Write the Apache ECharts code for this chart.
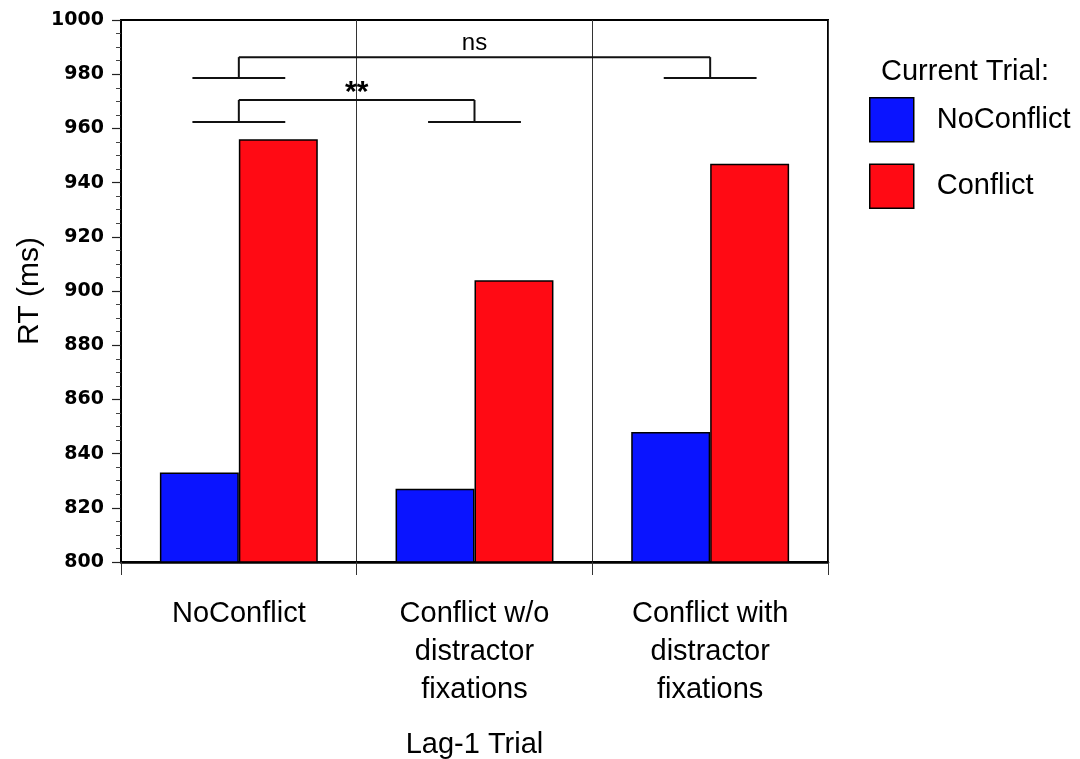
<!DOCTYPE html>
<html>
<head>
<meta charset="utf-8">
<script src="https://cdn.jsdelivr.net/npm/echarts@6/dist/echarts.min.js"></script>
<style>
  html, body { margin: 0; padding: 0; background: #fff; }
  #chart { width: 1080px; height: 759px; }
</style>
</head>
<body>
<div id="chart"></div>
<script>
// ---- data ----
const categories = ['NoConflict', 'Conflict w/o\ndistractor\nfixations', 'Conflict with\ndistractor\nfixations'];
const seriesNames = ['NoConflict', 'Conflict'];
const noConflictRT = [833, 827, 848];
const conflictRT = [956, 904, 947];
// brackets: [fromCategory, toCategory, bracketTop, bracketBase]
const bracketFrom = [0, 0];
const bracketTo = [2, 1];
const bracketTop = [986.3, 970.5];
const bracketBase = [978.6, 962.4];
const bracketLabels = ['ns', '**'];
const yMin = 800, yMax = 1000, yStep = 20;

const bracketData = bracketFrom.map((f, i) => [f, bracketTo[i], bracketTop[i], bracketBase[i]]);

const FONT = 'Liberation Sans';
const chart = echarts.init(document.getElementById('chart'));

chart.setOption({
  animation: false,
  textStyle: { fontFamily: FONT, color: '#000' },
  title: {
    text: 'Current Trial:',
    left: 881, top: 57, padding: 0,
    textStyle: { fontFamily: FONT, fontSize: 29, fontWeight: 'normal', color: '#000' }
  },
  legend: {
    data: seriesNames,
    orient: 'vertical',
    left: 869, top: 97, padding: 0,
    itemWidth: 44, itemHeight: 44, itemGap: 21,
    icon: 'rect',
    itemStyle: { borderColor: '#000', borderWidth: 1.5 },
    textStyle: { fontFamily: FONT, fontSize: 29, color: '#000', padding: [0, 0, 0, 18] }
  },
  grid: {
    left: 121, right: 252, top: 20, bottom: 197,
    outerBoundsMode: 'none',
    containLabel: false,
    show: true, borderColor: '#000', borderWidth: 2, backgroundColor: 'transparent'
  },
  xAxis: {
    type: 'category',
    data: categories,
    name: 'Lag-1 Trial',
    nameLocation: 'middle',
    nameGap: 168,
    nameMoveOverlap: false,
    nameTextStyle: { fontFamily: FONT, fontSize: 29, color: '#000' },
    axisLine: { lineStyle: { color: '#000', width: 2.5 } },
    axisTick: { show: true, length: 13, lineStyle: { color: '#333', width: 1 } },
    axisLabel: { interval: 0, fontFamily: FONT, fontSize: 29, lineHeight: 38, margin: 33, color: '#000' },
    splitLine: { show: true, lineStyle: { color: '#333', width: 1 } }
  },
  yAxis: {
    type: 'value',
    min: yMin, max: yMax, interval: yStep,
    name: 'RT (ms)',
    nameLocation: 'middle',
    nameGap: 76,
    nameMoveOverlap: false,
    nameTextStyle: { fontFamily: FONT, fontSize: 30, color: '#000' },
    axisLine: { show: true, lineStyle: { color: '#000', width: 2 } },
    axisTick: { show: true, length: 9, lineStyle: { color: '#222', width: 1.2 } },
    minorTick: { show: true, splitNumber: 4, length: 5, lineStyle: { color: '#444', width: 1 } },
    axisLabel: {
      fontFamily: 'DejaVu Sans', fontWeight: 'bold', fontSize: 19, color: '#000', margin: 17,
      formatter: function (v) { return String(v); }
    },
    splitLine: { show: false }
  },
  series: [
    {
      name: seriesNames[0], type: 'bar', data: noConflictRT,
      barGap: '0%', barCategoryGap: '33%',
      itemStyle: { color: '#0a14ff', borderColor: '#000', borderWidth: 1.5 }
    },
    {
      name: seriesNames[1], type: 'bar', data: conflictRT,
      barGap: '0%', barCategoryGap: '33%',
      itemStyle: { color: '#ff0a14', borderColor: '#000', borderWidth: 1.5 }
    },
    {
      type: 'custom',
      data: bracketData,
      encode: { x: [0, 1], y: [2, 3] },
      z: 10,
      silent: true,
      renderItem: function (params, api) {
        const f = api.value(0), t = api.value(1), top = api.value(2), base = api.value(3);
        const band = api.size([1, 0])[0];
        const half = band * 0.197;
        const pF = api.coord([f, top]);
        const pT = api.coord([t, top]);
        const bF = api.coord([f, base]);
        const bT = api.coord([t, base]);
        const ls = { stroke: '#111', lineWidth: 2 };
        const lbl = bracketLabels[params.dataIndex];
        const isStar = lbl === '**';
        return {
          type: 'group',
          children: [
            { type: 'line', shape: { x1: pF[0], y1: pF[1], x2: pT[0], y2: pT[1] }, style: ls },
            { type: 'line', shape: { x1: pF[0], y1: pF[1], x2: bF[0], y2: bF[1] }, style: ls },
            { type: 'line', shape: { x1: pT[0], y1: pT[1], x2: bT[0], y2: bT[1] }, style: ls },
            { type: 'line', shape: { x1: bF[0] - half, y1: bF[1], x2: bF[0] + half, y2: bF[1] }, style: ls },
            { type: 'line', shape: { x1: bT[0] - half, y1: bT[1], x2: bT[0] + half, y2: bT[1] }, style: ls },
            {
              type: 'text',
              style: {
                text: lbl,
                x: (pF[0] + pT[0]) / 2,
                y: isStar ? pF[1] + 8 : pF[1] - 2,
                align: 'center',
                verticalAlign: 'bottom',
                fill: '#000',
                font: (isStar ? 'bold 30px ' : '24px ') + FONT
              }
            }
          ]
        };
      }
    }
  ]
});
</script>
</body>
</html>
